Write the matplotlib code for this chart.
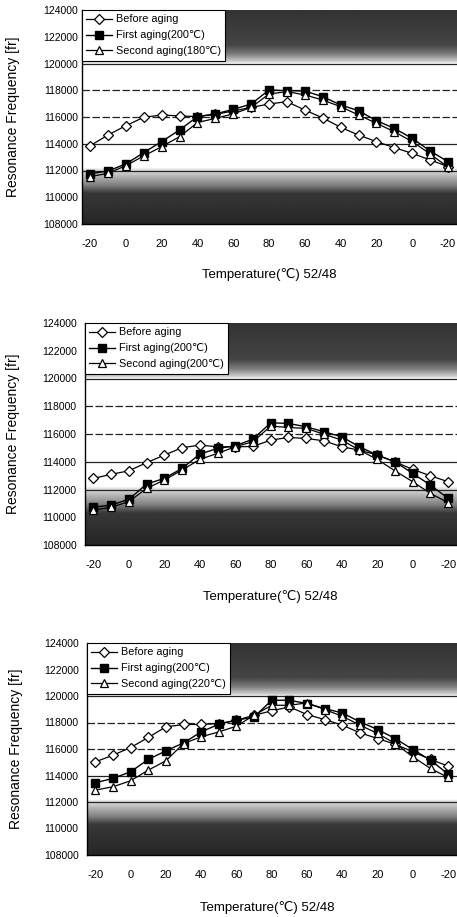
import numpy as np
import matplotlib
matplotlib.use("Agg")
import matplotlib.pyplot as plt

plt.rcParams['font.family'] = ['Liberation Sans', 'DejaVu Sans']

# ---------------- data ----------------
x_index = list(range(21))
x_tick_labels = ["-20", "0", "20", "40", "60", "80", "60", "40", "20", "0", "-20"]
y_ticks = [108000, 110000, 112000, 114000, 116000, 118000, 120000, 122000, 124000]

p1_before = [113850, 114650, 115350, 115980, 116150, 116080, 116030, 116200, 116450, 116720, 116970,
             117150, 116520, 115930, 115230, 114650, 114160, 113710, 113280, 112790, 112290]
p1_first = [111750, 111960, 112490, 113340, 114160, 115030, 116030, 116230, 116570, 116970, 118020,
            117970, 117940, 117520, 116900, 116470, 115730, 115150, 114400, 113460, 112660]
p1_second = [111540, 111790, 112360, 113090, 113780, 114530, 115580, 115900, 116230, 116720, 117720,
             117900, 117650, 117270, 116770, 116150, 115530, 114900, 114160, 113240, 112240]

p2_before = [112800, 113090, 113350, 113930, 114480, 115010, 115200, 115080, 115080, 115100, 115560,
             115750, 115680, 115510, 115080, 114840, 114480, 114000, 113450, 112990, 112560]
p2_first = [110720, 110880, 111290, 112390, 112800, 113520, 114550, 114960, 115150, 115630, 116810,
            116760, 116520, 116160, 115800, 115080, 114480, 114000, 113160, 112320, 111360]
p2_second = [110520, 110720, 111120, 112080, 112680, 113400, 114170, 114600, 115080, 115440, 116570,
             116470, 116400, 115990, 115560, 114840, 114170, 113350, 112560, 111720, 111050]

p3_before = [115030, 115530, 116110, 116870, 117670, 117850, 117850, 117920, 118170, 118550, 118880,
             119180, 118600, 118220, 117800, 117220, 116790, 116360, 115790, 115210, 114710]
p3_first = [113450, 113780, 114280, 115210, 115860, 116460, 117290, 117870, 118170, 118420, 119680,
            119680, 119430, 119050, 118720, 118050, 117470, 116790, 115960, 115160, 114100]
p3_second = [112900, 113150, 113600, 114400, 115110, 116410, 116920, 117290, 117720, 118550, 119300,
             119300, 119480, 118980, 118470, 117800, 117170, 116410, 115410, 114530, 113850]

label_before = "Before aging"
label_first = "First aging(200\u2103)"
second_labels = ["Second aging(180\u2103)", "Second aging(200\u2103)", "Second aging(220\u2103)"]
y_label = "Resonance Frequency [fr]"
x_label = "Temperature(\u2103) 52/48"

panels = [
    (p1_before, p1_first, p1_second, second_labels[0]),
    (p2_before, p2_first, p2_second, second_labels[1]),
    (p3_before, p3_first, p3_second, second_labels[2]),
]

# ---------------- layout ----------------
W, H = 457, 917
fig = plt.figure(figsize=(W / 100, H / 100), dpi=100)
fig.patch.set_facecolor('white')

# (left px, top px, bottom px, xmin, ylabel x, xlabel y, xlabel x, ytick pad)
geom = [
    (82, 10, 224, -0.45, -0.165, -0.206, 0.50, 3),
    (85, 323, 545, -0.47, -0.175, -0.203, 0.497, 6),
    (87, 643, 855, -0.47, -0.172, -0.218, 0.487, 6),
]

# background gradient (scan look)
gy = np.linspace(108000, 124000, 400)
gv = np.interp(gy,
               [108000, 110300, 110900, 111600, 112100, 112200, 120000, 120150, 120700, 121400, 124000],
               [0.15, 0.22, 0.5, 0.72, 0.9, 1.0, 1.0, 0.82, 0.5, 0.27, 0.2])
grad = gv.reshape(-1, 1)

for (before, first, second, lab2), (lpx, tpx, bpx, xmin, ylx, xly, xlx, ypad) in zip(panels, geom):
    ax = fig.add_axes([lpx / W, (H - bpx) / H, (W - lpx) / W, (bpx - tpx) / H])
    xmax = 20.5
    ax.imshow(grad, extent=[xmin, xmax, 108000, 124000], aspect='auto', cmap='gray',
              vmin=0, vmax=1, origin='lower', zorder=0, interpolation='bilinear')
    for yv in [112000, 114000, 116000, 118000, 120000]:
        ax.axhline(yv, color='#222222', lw=0.9, zorder=1,
                   ls=(0, (6, 2)) if yv in (116000, 118000) else '-')

    l1, = ax.plot(x_index, before, color='black', lw=0.9, marker='D', markersize=4.8,
                  markerfacecolor='white', markeredgecolor='black', markeredgewidth=0.9, zorder=3,
                  label=label_before)
    l2, = ax.plot(x_index, first, color='black', lw=1.0, marker='s', markersize=6,
                  markerfacecolor='black', markeredgecolor='black', zorder=4, label=label_first)
    l3, = ax.plot(x_index, second, color='black', lw=0.9, marker='^', markersize=5.5,
                  markerfacecolor='white', markeredgecolor='black', markeredgewidth=0.9, zorder=5,
                  label=lab2)

    ax.set_xlim(xmin, xmax)
    ax.set_ylim(108000, 124000)
    ax.set_yticks(y_ticks)
    ax.set_yticklabels([str(v) for v in y_ticks])
    ax.set_xticks(x_index[::2])
    ax.set_xticklabels(x_tick_labels)
    ax.tick_params(axis='both', length=0, labelsize=7.5)
    ax.tick_params(axis='x', pad=11, labelsize=8)
    ax.tick_params(axis='y', pad=ypad)
    for s in ['top', 'right']:
        ax.spines[s].set_visible(False)
    ax.spines['left'].set_linewidth(1.0)
    ax.spines['bottom'].set_linewidth(1.0)

    ax.set_ylabel(y_label, fontsize=10)
    ax.yaxis.set_label_coords(ylx, 0.5)
    ax.set_xlabel(x_label, fontsize=9.5)
    ax.xaxis.set_label_coords(xlx, xly)

    leg = ax.legend(handles=[l1, l2, l3], loc='upper left', bbox_to_anchor=(0, 1),
                    borderaxespad=0, fontsize=7.8, frameon=True, fancybox=False,
                    handlelength=2.4, handletextpad=0.3, labelspacing=0.55,
                    borderpad=0.4, framealpha=1)
    leg.get_frame().set_edgecolor('black')
    leg.get_frame().set_linewidth(0.8)
    leg.set_zorder(10)

fig.savefig('out.png', dpi=100, facecolor='white')
